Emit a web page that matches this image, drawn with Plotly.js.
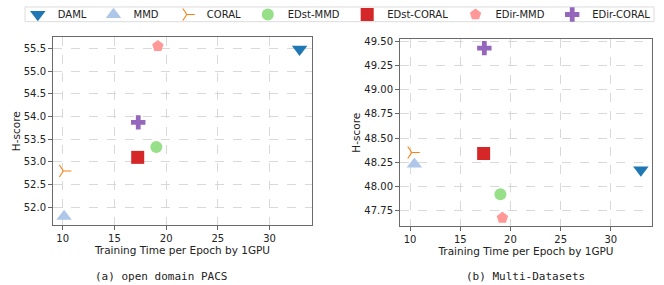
<!DOCTYPE html>
<html>
<head>
<meta charset="utf-8">
<script src="https://cdn.plot.ly/plotly-3.0.1.min.js"></script>
<style>html,body{margin:0;padding:0;background:#fff;}#chart{width:664px;height:285px;}</style>
</head>
<body>
<div id="chart"></div>
<script>
// Data
const methods = ["DAML", "MMD", "CORAL", "EDst-MMD", "EDst-CORAL", "EDir-MMD", "EDir-CORAL"];
const pacsTime = [32.9, 10.13, 10.06, 19.05, 17.25, 19.2, 17.3];
const pacsHscore = [55.48, 51.80, 52.80, 53.33, 53.10, 55.55, 53.87];
const multiTime = [32.99, 10.43, 10.17, 19.0, 17.33, 19.2, 17.4];
const multiHscore = [48.17, 48.23, 48.35, 47.92, 48.34, 47.675, 49.43];
const xTicks = [10, 15, 20, 25, 30];
const pacsYTicks = [52.0, 52.5, 53.0, 53.5, 54.0, 54.5, 55.0, 55.5];
const multiYTicks = [47.75, 48.00, 48.25, 48.50, 48.75, 49.00, 49.25, 49.50];
const captions = ["(a) open domain PACS", "(b) Multi-Datasets"];
const xTitle = "Training Time per Epoch by 1GPU";
const yTitle = "H-score";

// Styles
const colors = ["#1f77b4", "#aec7e8", "#ff7f0e", "#98df8a", "#d62728", "#ff9896", "#9467bd"];
const symbols = ["triangle-down", "triangle-up", "y-right-open", "circle", "square", "pentagon", "cross"];
const sizes = [13.5, 13.5, 10, 12, 13, 12, 12];
// legend marker x-positions (px) in the figure
const legendMarkerPx = [39.3, 115, 188.3, 269.3, 368.7, 477, 573.7];
const W = 664, H = 285;

const traces = [];
const layout = {
  width: W, height: H,
  margin: {l: 0, r: 0, t: 0, b: 0},
  paper_bgcolor: "#fff", plot_bgcolor: "#fff",
  showlegend: true,
  shapes: [{type: "rect", xref: "paper", yref: "paper", x0: 25/W, x1: 654/W, y0: 1 - 17/H, y1: 1 - 2/H,
    line: {color: "#dcdcdc", width: 1}, fillcolor: "rgba(0,0,0,0)", layer: "above"}],
  annotations: []
};

methods.forEach((m, i) => {
  const mk = {color: colors[i], size: sizes[i], symbol: symbols[i], line: {width: symbols[i].startsWith("y-") ? 1.1 : 0, color: colors[i]}};
  const lg = i === 0 ? "legend" : "legend" + (i + 1);
  traces.push({x: [pacsTime[i]], y: [pacsHscore[i]], type: "scatter", mode: "markers", name: m, legendgroup: m, legend: lg, marker: mk, xaxis: "x", yaxis: "y", cliponaxis: false});
  traces.push({x: [multiTime[i]], y: [multiHscore[i]], type: "scatter", mode: "markers", name: m, legendgroup: m, legend: lg, showlegend: false, marker: mk, xaxis: "x2", yaxis: "y2", cliponaxis: false});
  layout[lg] = {orientation: "h", x: (legendMarkerPx[i] - 21.5) / W, y: 1 - 9.5 / H, xanchor: "left", yanchor: "middle",
    bgcolor: "rgba(0,0,0,0)", borderwidth: 0, font: {family: "DejaVu Sans", size: 10, color: "#222"}, itemwidth: 30};
});

const tickFont = {family: "DejaVu Sans", size: 10, color: "#222"};
const titleFont = {family: "DejaVu Sans", size: 10.5, color: "#222"};
function xa(domain, range, anchor) {
  return {domain: domain, range: range, anchor: anchor, tickvals: xTicks, ticks: "outside", ticklen: 4, tickcolor: "#666",
    showline: true, mirror: true, linecolor: "#6a6a6a", linewidth: 1, showgrid: true, gridcolor: "#d0d0d0", griddash: "dash", gridwidth: 0.8,
    zeroline: false, tickfont: tickFont, title: {text: xTitle, font: titleFont, standoff: 3}};
}
function ya(domain, range, ticks, fmt, anchor) {
  return {domain: domain, range: range, tickvals: ticks, tickformat: fmt, ticks: "outside", ticklen: 4, tickcolor: "#666",
    showline: true, mirror: true, linecolor: "#6a6a6a", linewidth: 1, showgrid: true, gridcolor: "#d0d0d0", griddash: "dash", gridwidth: 0.8,
    zeroline: false, tickfont: tickFont, title: {text: yTitle, font: titleFont, standoff: 1}, anchor: anchor};
}

layout.xaxis = xa([53/W, 312/W], [9.06, 34.1], "y");
layout.yaxis = ya([1 - 224/H, 1 - 33/H], [51.61, 55.74], pacsYTicks, ".1f", "x");
layout.xaxis2 = xa([400/W, 652/W], [9.0, 34.1], "y2");
layout.yaxis2 = ya([1 - 225/H, 1 - 35/H], [47.59, 49.52], multiYTicks, ".2f", "x2");

const capX = [161, 525];
captions.forEach((c, i) => {
  layout.annotations.push({text: c, xref: "paper", yref: "paper", x: capX[i] / W, y: 1 - 276.7 / H,
    xanchor: "center", yanchor: "middle", showarrow: false, font: {family: "DejaVu Sans Mono", size: 11, color: "#222"}});
});

Plotly.newPlot("chart", traces, layout, {staticPlot: true, displayModeBar: false});
</script>
</body>
</html>
